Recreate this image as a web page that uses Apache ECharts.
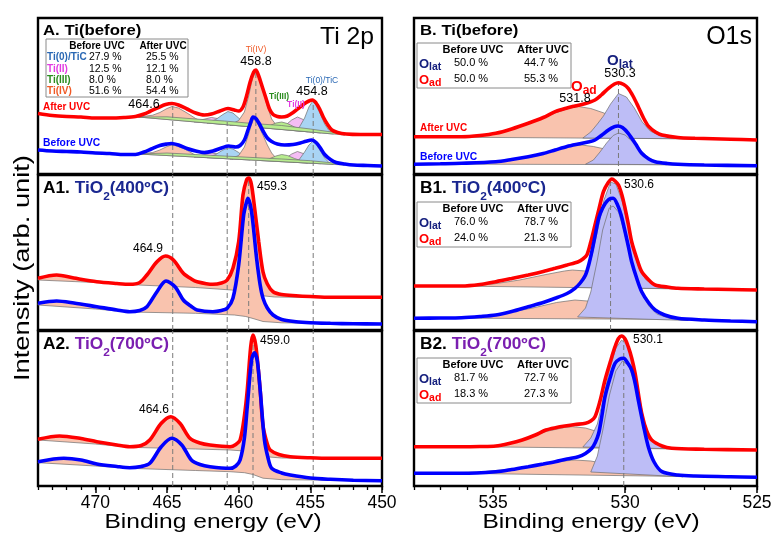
<!DOCTYPE html>
<html><head><meta charset="utf-8">
<script src="https://cdn.jsdelivr.net/npm/echarts@6/dist/echarts.min.js"></script>
<style>html,body{margin:0;padding:0;background:#fff}#c{width:776px;height:537px}</style>
</head><body><div id="c"></div>
<script>
// ---------------- DATA (binding energy eV, intensity arb. units) ----------------
// Panel A : Ti 2p, Ti(before)
const tiA_after = [[474,60.5],[473,58.5],[472,57.5],[471,57],[470,56],[469,56],[468,56.5],[467.2,57.5],[466.6,60],[466.2,62.5],[465.6,66.5],[465.1,69.5],[464.65,70.5],[464.2,69],[463.6,65],[463.0,61],[462.4,59],[461.9,60],[461.3,63],[460.75,65.5],[460.3,64],[460.0,63],[459.7,67],[459.45,78],[459.2,92],[458.95,102],[458.8,104],[458.6,98],[458.35,87],[458.1,76],[457.85,65],[457.6,59.5],[457.3,57.5],[457.0,57],[456.6,58],[456.2,61.5],[455.8,66],[455.4,70.5],[455.1,73],[454.85,74],[454.6,71],[454.35,65],[454.1,57],[453.8,49.5],[453.5,44],[453.1,41.5],[452.5,40],[451.5,39.5],[450,39.5]];
const tiA_before = [[474,24],[473,23],[472,22.5],[471,22],[470,21],[469,20.5],[468,19.5],[467.2,19.5],[466.6,22],[466.1,25],[465.5,28.5],[465.0,30],[464.7,30.5],[464.2,29],[463.6,25.5],[463.0,23],[462.4,21.5],[461.8,23],[461.2,26],[460.7,28],[460.2,27],[459.9,28.5],[459.6,34],[459.35,44],[459.15,52],[459.0,57],[458.8,55.5],[458.55,50],[458.3,43],[458.0,36],[457.7,32.5],[457.3,30],[456.8,29],[456.2,29.5],[455.7,31],[455.3,32.8],[454.9,34],[454.6,31.5],[454.3,26],[454.0,19.5],[453.6,14.5],[453.2,11.5],[452.6,10],[452,9],[451,8.5],[450,8]];
// fitted components, panel A (After UVC)
const tiA_after_TiIV1 = [[467,57],[466,58.8],[465.5,61.5],[465,65.5],[464.65,67.5],[464.2,66],[463.6,61],[463,55.5],[462.4,51.3]];
const tiA_after_TiII1 = [[463.1,52.1],[462.5,54.5],[461.9,56.5],[461.4,55.3],[460.9,52.5],[460.4,48.8]];
const tiA_after_TiC1 = [[462.2,51],[461.6,54.5],[461.1,59.5],[460.75,62.5],[460.4,61],[460,56],[459.6,50.5],[459.2,47.3]];
const tiA_after_TiIV2 = [[460.6,49],[460,53.5],[459.6,62],[459.3,78],[459.05,95],[458.85,102],[458.6,96],[458.3,83],[458,68],[457.7,55],[457.3,47.5],[457,44.5]];
const tiA_after_TiIII = [[458.4,46.3],[457.9,48],[457.4,51],[457,52],[456.6,50.5],[456.1,47],[455.6,44.5],[455.2,42.3]];
const tiA_after_TiII2 = [[457.2,44.8],[456.8,48],[456.3,54],[455.9,57],[455.5,54.5],[455,48],[454.6,43],[454.3,41.1]];
const tiA_after_TiC2 = [[456.2,43.5],[455.8,46],[455.4,56],[455.1,67],[454.85,72.5],[454.6,69],[454.3,60],[454,50],[453.7,43.5],[453.4,40]];
const tiA_after_bg = [[467,57],[465,57.2],[463,55],[461,53],[459,50.5],[457,48.5],[455,45],[453.5,42],[452.6,39]];
// fitted components, panel A (Before UVC)
const tiA_before_TiIV1 = [[467,20],[466,21.5],[465.5,24],[465,27.5],[464.7,29],[464.3,28],[463.7,24.5],[463.1,19.5],[462.4,16.5]];
const tiA_before_TiII1 = [[463.1,17],[462.5,19],[461.9,21],[461.4,20],[460.9,17.5],[460.4,15]];
const tiA_before_TiC1 = [[462.2,16.3],[461.6,19.5],[461.1,24],[460.75,26],[460.4,25],[460,21.5],[459.6,17],[459.2,14.1]];
const tiA_before_TiIV2 = [[460.6,15.1],[460,18.5],[459.6,27],[459.3,40],[459.1,50],[458.95,55],[458.7,51],[458.4,42],[458,29],[457.7,21],[457.3,14.5],[457,12.4]];
const tiA_before_TiIII = [[458.4,13.4],[457.9,15],[457.4,18],[457,19.5],[456.6,18.5],[456.1,15.5],[455.6,13],[455.2,11]];
const tiA_before_TiII2 = [[457.2,12.5],[456.8,15],[456.3,20],[455.9,22.5],[455.5,20.5],[455,15],[454.6,11.5],[454.3,10.3]];
const tiA_before_TiC2 = [[456.2,11.8],[455.8,14],[455.4,22],[455.1,29],[454.85,32.5],[454.6,30],[454.3,23],[454,16],[453.7,11.5],[453.4,9.6]];
const tiA_before_bg = [[467,20],[465,21],[463,19.5],[461,18],[459,16.5],[457,15],[455,13.3],[453.5,11.2],[452.6,9]];

// Panel A1 : TiO2 (400 C)
const tiA1_after = [[474,51.7],[472.7,55],[471.5,52],[469.9,48.3],[468.5,46.5],[467.6,45.7],[466.9,47.5],[466.4,55],[465.7,68.3],[465.1,74],[464.55,70],[463.86,56.7],[463.3,51],[462.9,48.3],[461.8,45.7],[461.2,47],[460.8,50],[460.4,61.7],[460,88.3],[459.7,135],[459.45,150],[459.3,152],[459.15,148],[459,135],[458.6,88.3],[458.3,58],[458,46],[457.6,38.3],[457,35.5],[456,34.3],[455,33.5],[453.6,32.7],[452,32.7],[450,32.7]];
const tiA1_before = [[474,26.7],[472.7,29],[471.5,27],[469.9,23.3],[468.5,20],[467.6,18.3],[466.9,19.5],[466.4,23.3],[465.7,38.3],[465.07,49],[464.44,43.3],[463.86,30],[463.3,23.5],[462.9,20],[461.8,18.3],[461.2,19.5],[460.8,21.7],[460.4,31.7],[460,65],[459.65,115],[459.45,128],[459.35,131.7],[459.1,118.3],[458.75,71.7],[458.5,45],[458.3,31.7],[458,22],[457.6,15],[457,10.5],[456,8.3],[455,7.3],[453.6,6.7],[452,6.2],[450,6]];
const tiA1_after_base = [[474,50],[470,47.5],[467,45],[463,42.5],[460.5,40],[459.5,38.5],[459,36.5],[458.5,34.5],[457.5,33],[455,32.5],[453,32.3]];
const tiA1_before_base = [[474,25],[470,21],[467.6,18],[463,16.7],[460.3,15],[459.5,13.5],[459,11.5],[458.3,8.5],[457,7.2],[455,6.7],[453,6.3]];

// Panel A2 : TiO2 (700 C)
const tiA2_after = [[474,46.7],[472.5,50],[471,47.5],[469.9,44.3],[468.5,41],[467.6,39.3],[466.8,40.5],[466.2,46],[465.4,62.7],[464.74,69.3],[464.1,62.7],[463.4,47.7],[462.7,43],[462,41],[460.6,39.3],[460.2,41.5],[459.9,46],[459.6,70],[459.4,96],[459.16,139.3],[459.0,151],[458.8,140],[458.5,96],[458.3,60],[458.0,42],[457.8,36],[457.2,31.5],[456.4,29.3],[455,28.2],[453.6,27.7],[452,27.7],[450,27.7]];
const tiA2_before = [[474,24.3],[472.2,27.7],[471,26],[469.9,22],[468.5,19.5],[467.6,18.3],[466.8,19.5],[466.2,22.7],[465.4,39.3],[464.67,47.7],[463.97,41],[463.3,26],[462.7,21.5],[462,19.3],[460.6,17.7],[460.2,20],[459.9,26],[459.6,48],[459.4,79.3],[459.1,126],[458.9,133.3],[458.7,125],[458.5,96],[458.2,46],[457.95,28],[457.7,17.7],[457,13],[456.4,11],[455,8],[453.6,6.7],[452,5.8],[450,5.3]];
const tiA2_after_base = [[474,46],[470,42],[467.6,38.7],[463,37],[460.6,36],[459.6,35],[459,33],[458.3,29.5],[457,28],[455,27.7],[453,27.5]];
const tiA2_before_base = [[474,23.3],[470,20],[467.6,17.7],[463,15.5],[460.6,14.3],[459.6,13.3],[459,11.5],[458.3,7.8],[457,6.3],[455,6],[453,5.8]];

// Panel B : O1s, Ti(before)
const oB_after = [[538,37.3],[537,37.3],[536.2,37.3],[535.5,38.5],[534.9,40.7],[534.3,45],[533.67,50.7],[533.1,56.5],[532.65,62.3],[532.2,66],[531.9,68],[531.5,70.5],[531.14,74],[530.9,79],[530.63,85.7],[530.4,90],[530.25,91.3],[530.05,89.5],[529.88,85.7],[529.7,78],[529.5,67.3],[529.3,56],[529.1,47.3],[528.85,42],[528.6,39],[528,36.5],[527.35,35.7],[526,34.8],[525,34]];
const oB_before = [[538,9.7],[537,10.2],[536.2,10.7],[534.9,12.3],[534.3,14.5],[533.67,17.3],[533.1,20.5],[532.65,24],[532.2,27.5],[531.77,30],[531.4,32],[531.14,34],[530.9,38.5],[530.63,44],[530.4,47.3],[530.28,48],[530.1,46.5],[529.88,40.7],[529.6,30],[529.37,20.7],[529.1,15],[528.86,12.3],[528.4,10.5],[528,9.7],[527,9],[525,8.3]];
const oB_after_Oad = [[536.5,36.8],[535.5,38],[534.9,40],[534,47],[533.3,54],[532.65,61],[532.1,66],[531.77,67.5],[531.3,65.5],[530.8,61],[530.3,54],[529.7,46],[529.1,40],[528.4,36.5],[527.5,35.2]];
const oB_after_Olat = [[531.6,36],[531.3,42],[531.05,50],[530.82,58],[530.55,70],[530.25,80.5],[529.95,77],[529.65,66],[529.35,52],[529.05,43],[528.7,38.5],[528.2,36],[527.5,35.2]];
const oB_before_Oad = [[537,9.9],[536,10.4],[535,12],[534,15.5],[533.3,19.5],[532.6,24.5],[532,28],[531.65,29],[531.2,27.5],[530.6,24],[530,20],[529.4,15.5],[528.8,12],[528,10],[527.5,9.2]];
const oB_before_Olat = [[531.5,9.8],[531.2,14],[530.95,22],[530.7,31],[530.45,38.5],[530.25,41],[530.0,39],[529.7,32],[529.4,23],[529.1,16],[528.8,12],[528.3,10],[527.6,9.2]];

// Panel B1 : TiO2 (400 C)
const oB1_after = [[538,44],[537,44],[536.2,44],[535.5,45.5],[534.9,48.3],[534.3,51.5],[533.67,55],[533.1,58.5],[532.65,61.7],[532.2,65],[531.77,68.3],[531.6,71],[531.45,75],[531.3,88],[531.14,105],[530.98,122],[530.82,138.3],[530.65,147],[530.5,151],[530.38,149],[530.25,145],[530.12,135],[530.0,121.7],[529.87,105],[529.75,88.3],[529.55,71],[529.37,58.3],[529.1,50],[528.86,45],[528.4,43],[528,41.7],[527,41],[526,40.5],[525,40]];
const oB1_before = [[538,11.7],[537,12],[536.2,12.3],[535.5,13.5],[534.9,15],[534.3,18.5],[533.67,23.3],[533.1,27.5],[532.65,31.7],[532.2,36.5],[531.9,41.7],[531.7,47],[531.5,55],[531.38,65],[531.26,78.3],[531.13,95],[531.0,111.7],[530.85,122],[530.7,128.3],[530.55,131.5],[530.45,131.7],[530.3,126],[530.15,115],[530.0,98.3],[529.87,83],[529.75,68.3],[529.55,51],[529.37,38.3],[529.1,27],[528.86,20],[528.5,15],[528,11.7],[527,10],[526,9],[525,8.3]];
const oB1_after_Oad = [[536.5,44],[535,46],[534,50],[533,55.5],[532.3,59],[532,60],[531.5,59],[531,56],[530.5,52],[530,48],[529.4,44.5],[528.5,42],[527.5,41]];
const oB1_after_Olat = [[531.8,42.5],[531.5,52],[531.25,75],[531.0,105],[530.8,130],[530.55,148],[530.35,146],[530.1,128],[529.9,105],[529.7,80],[529.45,60],[529.2,50],[528.9,45],[528.5,42.5],[527.8,41.2]];
const oB1_before_Oad = [[537,12],[535.5,13.5],[534.5,17],[533.5,22],[532.6,27.5],[531.9,30],[531.2,28.5],[530.5,24.5],[529.8,20],[529,15.5],[528.2,12],[527.5,10.5]];
const oB1_before_Olat = [[531.8,13],[531.5,22],[531.3,38],[531.05,70],[530.85,100],[530.6,122],[530.45,124],[530.25,118],[530.05,100],[529.85,78],[529.65,57],[529.4,38],[529.1,24],[528.8,16],[528.3,11.5],[527.6,9.5]];

// Panel B2 : TiO2 (700 C)
const oB2_after = [[538,39.3],[537,39.3],[536.2,39.3],[535.5,39.5],[534.9,40],[534.4,42.5],[533.9,46],[533.4,51],[533.0,56],[532.6,58.5],[532.28,60],[531.9,61.5],[531.5,62.7],[531.3,65],[531.14,69.3],[530.95,85],[530.76,106],[530.55,125],[530.38,139.3],[530.25,147.5],[530.13,150],[530.0,147],[529.88,139.3],[529.75,128],[529.62,112.7],[529.5,93],[529.37,72.7],[529.18,55],[528.99,46],[528.6,40],[528.23,37.7],[527,36.8],[525,36]];
const oB2_before = [[538,12.7],[537,12.7],[536.2,12.7],[534.9,14.3],[534.3,16.5],[533.67,19.3],[533.1,22],[532.65,24.3],[532.2,27],[531.77,29.3],[531.5,32.5],[531.26,37.7],[531.12,44],[531.0,52.7],[530.88,70],[530.76,89.3],[530.57,108],[530.38,122.7],[530.2,127],[530.06,127.7],[529.9,123],[529.75,116],[529.62,103],[529.5,86],[529.3,60],[529.12,39.3],[528.9,24],[528.6,14.3],[528,11],[527.35,10],[526,9.3],[525,8.7]];
const oB2_after_Oad = [[536.5,39.5],[535,40],[534,45],[533,54.5],[532.3,58.5],[532,59.3],[531.5,58],[531,54],[530.5,49],[530,44],[529.4,40],[528.6,38],[527.8,37]];
const oB2_after_Olat = [[531.6,39],[531.3,48],[531.05,62],[530.85,85],[530.6,115],[530.35,138],[530.13,146],[529.9,140],[529.7,122],[529.5,95],[529.3,68],[529.1,50],[528.85,42],[528.4,38.5],[527.6,37]];
const oB2_before_Oad = [[537,13],[535.5,14],[534.5,16.5],[533.5,20],[532.5,24.5],[531.9,26],[531.3,25],[530.7,22],[530,18],[529.3,14],[528.6,11],[527.8,9.5]];
const oB2_before_Olat = [[531.3,14],[531.05,30],[530.85,55],[530.6,90],[530.35,115],[530.1,125],[529.85,120],[529.65,103],[529.45,80],[529.25,55],[529.05,34],[528.8,19],[528.4,11.5],[527.8,9.2]];

// peak guide lines [eV, from, to]
const guidesA = [[464.6,0,68],[460.8,0,52],[458.8,0,104],[454.8,0,74]];
const guidesA1 = [[464.6,0,155],[460.8,0,155],[459.3,0,152],[454.8,0,155]];
const guidesA2 = [[464.6,0,155],[460.8,0,155],[459.0,0,150],[454.8,0,155]];
const guidesB = [[530.25,0,91]];
const guidesB1 = [[530.55,0,150]];
const guidesB2 = [[530.05,0,148]];

// axis ticks
const tiTicks = {min: 450, max: 474, major: 5, minor: 1};
const oTicks = {min: 525, max: 538, major: 5, minor: 1};

// table texts
const tiRowNames = ['Ti(0)/TiC','Ti(II)','Ti(III)','Ti(IV)'];
const tiBeforePct = ['27.9 %','12.5 %','8.0 %','51.6 %'];
const tiAfterPct = ['25.5 %','12.1 %','8.0 %','54.4 %'];
const oB_beforePct = ['50.0 %','50.0 %'];
const oB_afterPct = ['44.7 %','55.3 %'];
const oB1_beforePct = ['76.0 %','24.0 %'];
const oB1_afterPct = ['78.7 %','21.3 %'];
const oB2_beforePct = ['81.7 %','18.3 %'];
const oB2_afterPct = ['72.7 %','27.3 %'];
const peakLabelsA = ['464.6','458.8','454.8'];
const peakLabelsA1 = ['464.9','459.3'];
const peakLabelsA2 = ['464.6','459.0'];
const peakLabelsB = ['531.8','530.3'];
const peakLabelsB1 = ['530.6'];
const peakLabelsB2 = ['530.1'];

// ---------------- STYLE ----------------
const FONT = '"Liberation Sans", Arial, Helvetica, sans-serif';
const RED = '#ff0000', BLUE = '#0000ff';
const SAL = '#f9c3ae', LBLUE = '#a9d4f4', PINK = '#f4bdf4', GREEN = '#b7ec8e', LAV = '#bdbdf6';
const C_TIC = '#2a68b4', C_TIII = '#e23ce2', C_TIIII = '#2a8c1e', C_TIIV = '#f05a26';
const NAVY = '#1a2790', PURPLE = '#7a1fb0', OLAT = '#16207e';

const grids = [
  {left: 38, top: 18, width: 344, height: 156},
  {left: 38, top: 175, width: 344, height: 155},
  {left: 38, top: 331, width: 344, height: 155},
  {left: 414, top: 18, width: 343, height: 156},
  {left: 414, top: 175, width: 343, height: 155},
  {left: 414, top: 331, width: 343, height: 155}
];

const series = [];
function poly(p, pts, color) {
  series.push({
    type: 'custom', xAxisIndex: p, yAxisIndex: p, z: 1, silent: true,
    data: pts, encode: {x: 0, y: 1},
    renderItem: function (params, api) {
      if (params.dataIndex !== 0) return null;
      return {type: 'polygon', shape: {points: pts.map(function (q) { return api.coord(q); })},
        style: {fill: color, stroke: '#6e6e6e', lineWidth: 0.7}};
    }
  });
}
function fillFrom(curve, base) {
  const hi = base[0][0], lo = base[base.length - 1][0];
  return curve.filter(function (q) { return q[0] <= hi && q[0] >= lo; }).concat(base.slice().reverse());
}
function guide(p, g) {
  series.push({type: 'line', xAxisIndex: p, yAxisIndex: p, z: 2, silent: true, symbol: 'none',
    data: [[g[0], g[1]], [g[0], g[2]]], lineStyle: {color: '#7a7a7a', width: 1, type: [5, 3]}});
}
function curve(p, d, color) {
  series.push({type: 'line', xAxisIndex: p, yAxisIndex: p, z: 3, silent: true, symbol: 'none',
    smooth: 0.3, data: d, lineStyle: {color: color, width: 3.6}});
}

// Panel A
[[tiA_after_TiIV1, SAL],[tiA_after_TiII1, PINK],[tiA_after_TiC1, LBLUE],[tiA_after_TiII2, PINK],[tiA_after_TiC2, LBLUE],[tiA_after_TiIV2, SAL],[tiA_after_TiIII, GREEN],[tiA_after_bg, GREEN],
 [tiA_before_TiIV1, SAL],[tiA_before_TiII1, PINK],[tiA_before_TiC1, LBLUE],[tiA_before_TiII2, PINK],[tiA_before_TiC2, LBLUE],[tiA_before_TiIV2, SAL],[tiA_before_TiIII, GREEN],[tiA_before_bg, GREEN]]
 .forEach(function (c) { poly(0, c[0], c[1]); });
guidesA.forEach(function (g) { guide(0, g); });
curve(0, tiA_after, RED); curve(0, tiA_before, BLUE);
// Panel A1
poly(1, fillFrom(tiA1_after, tiA1_after_base), SAL);
poly(1, fillFrom(tiA1_before, tiA1_before_base), SAL);
guidesA1.forEach(function (g) { guide(1, g); });
curve(1, tiA1_after, RED); curve(1, tiA1_before, BLUE);
// Panel A2
poly(2, fillFrom(tiA2_after, tiA2_after_base), SAL);
poly(2, fillFrom(tiA2_before, tiA2_before_base), SAL);
guidesA2.forEach(function (g) { guide(2, g); });
curve(2, tiA2_after, RED); curve(2, tiA2_before, BLUE);
// Panel B
poly(3, oB_after_Oad, SAL); poly(3, oB_after_Olat, LAV);
poly(3, oB_before_Oad, SAL); poly(3, oB_before_Olat, LAV);
guidesB.forEach(function (g) { guide(3, g); });
curve(3, oB_after, RED); curve(3, oB_before, BLUE);
// Panel B1
poly(4, oB1_after_Oad, SAL); poly(4, oB1_after_Olat, LAV);
poly(4, oB1_before_Oad, SAL); poly(4, oB1_before_Olat, LAV);
guidesB1.forEach(function (g) { guide(4, g); });
curve(4, oB1_after, RED); curve(4, oB1_before, BLUE);
// Panel B2
poly(5, oB2_after_Oad, SAL); poly(5, oB2_after_Olat, LAV);
poly(5, oB2_before_Oad, SAL); poly(5, oB2_before_Olat, LAV);
guidesB2.forEach(function (g) { guide(5, g); });
curve(5, oB2_after, RED); curve(5, oB2_before, BLUE);

// ---------------- AXES ----------------
function xAx(p, t, bottom) {
  const ax = {gridIndex: p, type: 'value', min: t.min, max: t.max, inverse: true, interval: t.major, position: 'bottom',
    splitLine: {show: false}, axisLine: {show: false}};
  if (!bottom) { ax.axisTick = {show: false}; ax.axisLabel = {show: false}; }
  else {
    ax.axisTick = {show: true, inside: false, length: 7, lineStyle: {color: '#000', width: 1.5}};
    ax.axisLabel = {show: true, showMaxLabel: false, color: '#000', fontSize: 17.5, fontFamily: FONT, margin: 8};
  }
  return ax;
}
function minorAx(p, t) {
  return {gridIndex: p, type: 'value', min: t.min, max: t.max, inverse: true, interval: t.minor, position: 'bottom',
    splitLine: {show: false}, axisLine: {show: false}, axisLabel: {show: false},
    axisTick: {show: true, inside: false, length: 4, lineStyle: {color: '#000', width: 1.3}}};
}
const xAxes = [xAx(0, tiTicks, false), xAx(1, tiTicks, false), xAx(2, tiTicks, true),
  xAx(3, oTicks, false), xAx(4, oTicks, false), xAx(5, oTicks, true), minorAx(2, tiTicks), minorAx(5, oTicks)];
const yAxes = grids.map(function (g, i) { return {gridIndex: i, type: 'value', min: 0, max: g.height, show: false}; });

// ---------------- TEXT ----------------
const T = [];
function txt(x, y, s, o) {
  o = o || {};
  T.push({type: 'text', x: x, y: y, z: 100, silent: true, scaleX: o.sx || 1,
    style: {text: s, fontFamily: FONT, fontSize: o.fs || 12, fontWeight: o.bold ? 'bold' : 'normal',
      fill: o.color || '#000', align: o.align || 'left', verticalAlign: 'middle',
      textAlign: o.align || 'left', textVerticalAlign: 'middle', rich: o.rich}});
}
function titleRich(prefix, color, temp) {
  return {
    s: '{a|' + prefix + ' }{b|TiO}{s|2}{b|(' + temp + ')}',
    rich: {
      a: {fontSize: 16, fontWeight: 'bold', fill: '#000', fontFamily: FONT, lineHeight: 20, verticalAlign: 'middle'},
      b: {fontSize: 16, fontWeight: 'bold', fill: color, fontFamily: FONT, lineHeight: 20, verticalAlign: 'middle'},
      s: {fontSize: 11, fontWeight: 'bold', fill: color, fontFamily: FONT, lineHeight: 27, verticalAlign: 'bottom'}
    }
  };
}
function oRich(kind, color, big, small) {
  return {
    s: '{o|O}{s|' + kind + '}',
    rich: {
      o: {fontSize: big, fontWeight: 'bold', fill: color, fontFamily: FONT, lineHeight: big + 2, verticalAlign: 'middle'},
      s: {fontSize: small, fontWeight: 'bold', fill: color, fontFamily: FONT, lineHeight: big + 5, verticalAlign: 'bottom'}
    }
  };
}
function rect(x, y, w, h) {
  T.push({type: 'rect', z: 99, silent: true, shape: {x: x, y: y, width: w, height: h},
    style: {fill: 'rgba(255,255,255,0)', stroke: '#8a8a8a', lineWidth: 1}});
}

// Panel A texts
txt(43, 31, 'A. Ti(before)', {fs: 15.5, bold: true, sx: 1.08});
txt(374, 37, 'Ti 2p', {fs: 24, align: 'right', sx: 1.03});
rect(46, 39, 142, 58);
txt(97, 46, 'Before UVC', {fs: 10, bold: true, align: 'center'});
txt(163, 46, 'After UVC', {fs: 10, bold: true, align: 'center'});
const tiRowColors = [C_TIC, C_TIII, C_TIIII, C_TIIV];
[57, 69, 80, 91].forEach(function (y, i) {
  txt(47, y, tiRowNames[i], {fs: 10, bold: true, color: tiRowColors[i]});
  txt(89, y, tiBeforePct[i], {fs: 10.5});
  txt(146, y, tiAfterPct[i], {fs: 10.5});
});
txt(43, 107, 'After UVC', {fs: 10, bold: true, color: RED});
txt(43, 143, 'Before UVC', {fs: 10.3, bold: true, color: BLUE});
txt(144, 105, peakLabelsA[0], {fs: 12.5, align: 'center'});
txt(256, 50, 'Ti(IV)', {fs: 8.5, color: C_TIIV, align: 'center'});
txt(256, 62, peakLabelsA[1], {fs: 12.5, align: 'center'});
txt(279, 97, 'Ti(III)', {fs: 8.5, bold: true, color: C_TIIII, align: 'center'});
txt(296, 105, 'Ti(II)', {fs: 8.5, bold: true, color: C_TIII, align: 'center'});
txt(322, 81, 'Ti(0)/TiC', {fs: 8.5, color: C_TIC, align: 'center'});
txt(312, 92, peakLabelsA[2], {fs: 12.5, align: 'center'});

// Panel A1 texts
let tr = titleRich('A1.', NAVY, '400ºC');
txt(43, 189, tr.s, {rich: tr.rich, sx: 1.08});
txt(257, 187, peakLabelsA1[1], {fs: 12});
txt(148, 249, peakLabelsA1[0], {fs: 12, align: 'center'});

// Panel A2 texts
tr = titleRich('A2.', PURPLE, '700ºC');
txt(43, 345, tr.s, {rich: tr.rich, sx: 1.08});
txt(260, 341, peakLabelsA2[1], {fs: 12});
txt(154, 410, peakLabelsA2[0], {fs: 12, align: 'center'});

// Panel B texts
txt(420, 31, 'B. Ti(before)', {fs: 15.5, bold: true, sx: 1.08});
txt(752, 37, 'O1s', {fs: 25, align: 'right'});
function oTable(top, bef, aft) {
  rect(417, top, 154, 45);
  txt(473, top + 6.5, 'Before UVC', {fs: 11, bold: true, align: 'center'});
  txt(543, top + 6.5, 'After UVC', {fs: 11, bold: true, align: 'center'});
  let r = oRich('lat', OLAT, 13, 10.5);
  txt(419, top + 21, r.s, {rich: r.rich});
  r = oRich('ad', RED, 13, 10.5);
  txt(419, top + 37, r.s, {rich: r.rich});
  txt(471, top + 20, bef[0], {fs: 11, align: 'center'});
  txt(541, top + 20, aft[0], {fs: 11, align: 'center'});
  txt(471, top + 36, bef[1], {fs: 11, align: 'center'});
  txt(541, top + 36, aft[1], {fs: 11, align: 'center'});
}
oTable(43, oB_beforePct, oB_afterPct);
let orr = oRich('lat', OLAT, 15, 12);
txt(607, 61, orr.s, {rich: orr.rich});
txt(620, 74, peakLabelsB[1], {fs: 12.5, align: 'center'});
orr = oRich('ad', RED, 15, 12);
txt(571, 87, orr.s, {rich: orr.rich});
txt(575, 99, peakLabelsB[0], {fs: 12.5, align: 'center'});
txt(420, 128, 'After UVC', {fs: 10, bold: true, color: RED});
txt(420, 157, 'Before UVC', {fs: 10.3, bold: true, color: BLUE});

// Panel B1 texts
tr = titleRich('B1.', NAVY, '400ºC');
txt(420, 189, tr.s, {rich: tr.rich, sx: 1.08});
oTable(202, oB1_beforePct, oB1_afterPct);
txt(624, 185, peakLabelsB1[0], {fs: 12});

// Panel B2 texts
tr = titleRich('B2.', PURPLE, '700ºC');
txt(420, 345, tr.s, {rich: tr.rich, sx: 1.08});
oTable(358, oB2_beforePct, oB2_afterPct);
txt(633, 340, peakLabelsB2[0], {fs: 12});

// axis names
txt(213, 522, 'Binding energy (eV)', {fs: 21, align: 'center', sx: 1.17});
txt(591, 522, 'Binding energy (eV)', {fs: 21, align: 'center', sx: 1.17});
T.push({type: 'text', x: 23, y: 268, rotation: Math.PI / 2, z: 100, silent: true, scaleX: 1.24,
  style: {text: 'Intensity (arb. unit)', fontFamily: FONT, fontSize: 22, fill: '#000',
    align: 'center', verticalAlign: 'middle', textAlign: 'center', textVerticalAlign: 'middle'}});

const chart = echarts.init(document.getElementById('c'), null, {renderer: 'canvas'});
chart.setOption({
  animation: false,
  backgroundColor: '#fff',
  grid: grids.map(function (g) {
    return Object.assign({show: true, borderColor: '#000', borderWidth: 2.4, backgroundColor: 'rgba(0,0,0,0)',
      containLabel: false, outerBoundsMode: 'none'}, g);
  }),
  xAxis: xAxes,
  yAxis: yAxes,
  series: series,
  graphic: T
});
</script></body></html>
